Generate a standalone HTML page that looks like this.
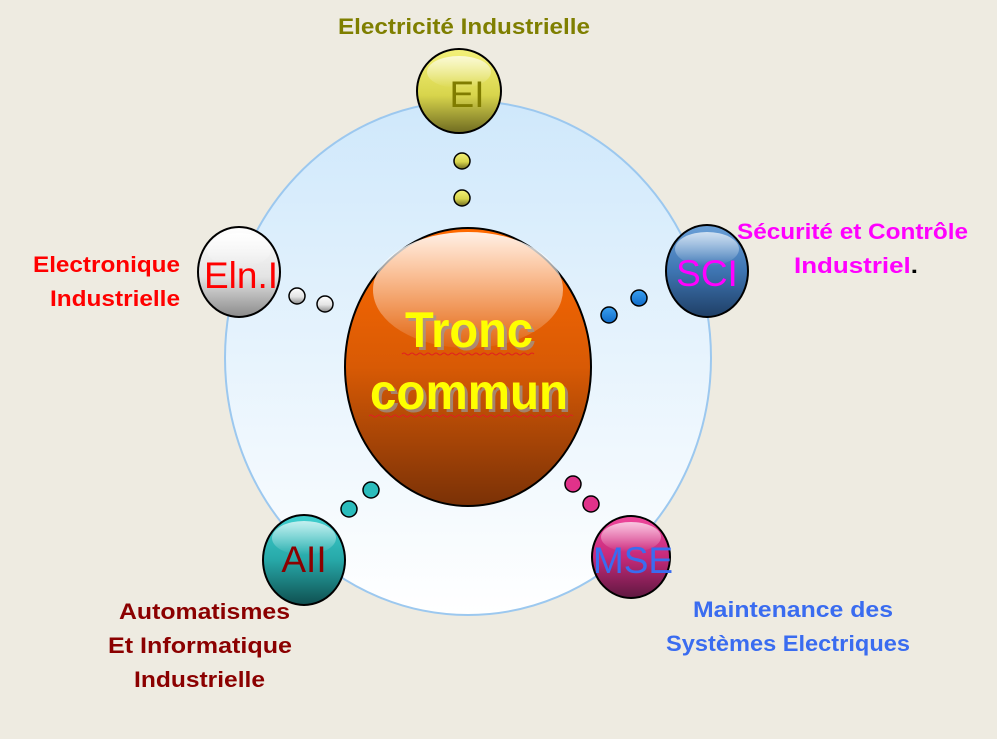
<!DOCTYPE html>
<html><head><meta charset="utf-8"><style>
body{margin:0;background:#eeebe1;}
svg{display:block;}
text{font-family:"Liberation Sans",sans-serif;}
.lb{font-weight:bold;font-size:22px;}
.sp{font-size:37px;}
</style></head><body>
<svg width="997" height="739" viewBox="0 0 997 739">
<defs>
<linearGradient id="bg" x1="0" y1="0" x2="0" y2="1"><stop offset="0" stop-color="#cfe8fb"/><stop offset="1" stop-color="#ffffff"/></linearGradient>
<linearGradient id="or" x1="0" y1="0" x2="0" y2="1"><stop offset="0" stop-color="#ff6a00"/><stop offset="0.5" stop-color="#d85a05"/><stop offset="1" stop-color="#7a3106"/></linearGradient>
<linearGradient id="hl" x1="0" y1="0" x2="0" y2="1"><stop offset="0" stop-color="#fff" stop-opacity="0.9"/><stop offset="1" stop-color="#fff" stop-opacity="0.05"/></linearGradient>
<linearGradient id="hs" x1="0" y1="0" x2="0" y2="1"><stop offset="0" stop-color="#fff" stop-opacity="0.7"/><stop offset="1" stop-color="#fff" stop-opacity="0"/></linearGradient>
<linearGradient id="ye" x1="0" y1="0" x2="0" y2="1"><stop offset="0" stop-color="#f4f17a"/><stop offset="0.55" stop-color="#d8d54c"/><stop offset="1" stop-color="#6f6b21"/></linearGradient>
<linearGradient id="gr" x1="0" y1="0" x2="0" y2="1"><stop offset="0" stop-color="#ffffff"/><stop offset="0.55" stop-color="#e4e4e4"/><stop offset="1" stop-color="#8a8a8a"/></linearGradient>
<linearGradient id="bl" x1="0" y1="0" x2="0" y2="1"><stop offset="0" stop-color="#6aa0d8"/><stop offset="0.5" stop-color="#3e75b2"/><stop offset="1" stop-color="#1f3f66"/></linearGradient>
<linearGradient id="te" x1="0" y1="0" x2="0" y2="1"><stop offset="0" stop-color="#40d0d0"/><stop offset="0.5" stop-color="#27a8a8"/><stop offset="1" stop-color="#0f4f50"/></linearGradient>
<linearGradient id="pk" x1="0" y1="0" x2="0" y2="1"><stop offset="0" stop-color="#f0479c"/><stop offset="0.5" stop-color="#c52a7a"/><stop offset="1" stop-color="#5f1840"/></linearGradient>
<linearGradient id="db" x1="0" y1="0" x2="0" y2="1"><stop offset="0" stop-color="#3aa0f0"/><stop offset="1" stop-color="#0f6ac8"/></linearGradient>
</defs>
<ellipse cx="468" cy="358" rx="243" ry="257" fill="url(#bg)" stroke="#9cc8ef" stroke-width="2"/>

<ellipse cx="468" cy="367" rx="123" ry="139" fill="url(#or)" stroke="#000" stroke-width="2"/>
<ellipse cx="468" cy="290" rx="95" ry="58" fill="url(#hl)"/>
<g font-weight="bold" font-size="50">
<text x="408" y="350" textLength="128" lengthAdjust="spacingAndGlyphs" fill="#999" opacity="0.7">Tronc</text>
<text x="405" y="347" textLength="128" lengthAdjust="spacingAndGlyphs" fill="#ffff00">Tronc</text>
<text x="373" y="412" textLength="198" lengthAdjust="spacingAndGlyphs" fill="#999" opacity="0.7">commun</text>
<text x="370" y="409" textLength="198" lengthAdjust="spacingAndGlyphs" fill="#ffff00">commun</text>
</g>
<path d="M402 354 q2 -2 4 0 t4 0 t4 0 t4 0 t4 0 t4 0 t4 0 t4 0 t4 0 t4 0 t4 0 t4 0 t4 0 t4 0 t4 0 t4 0 t4 0 t4 0 t4 0 t4 0 t4 0 t4 0 t4 0 t4 0 t4 0 t4 0 t4 0 t4 0 t4 0 t4 0 t4 0 t4 0 t4 0" fill="none" stroke="#e02020" stroke-width="1"/>
<path d="M369 416 q2 -2 4 0 t4 0 t4 0 t4 0 t4 0 t4 0 t4 0 t4 0 t4 0 t4 0 t4 0 t4 0 t4 0 t4 0 t4 0 t4 0 t4 0 t4 0 t4 0 t4 0 t4 0 t4 0 t4 0 t4 0 t4 0 t4 0 t4 0 t4 0 t4 0 t4 0 t4 0 t4 0 t4 0 t4 0 t4 0 t4 0 t4 0 t4 0 t4 0 t4 0 t4 0 t4 0 t4 0 t4 0 t4 0 t4 0 t4 0 t4 0 t4 0 t4 0 t4 0" fill="none" stroke="#e02020" stroke-width="1"/>

<g stroke="#000" stroke-width="1.5">
<circle cx="462" cy="161" r="8" fill="url(#ye)"/><circle cx="462" cy="198" r="8" fill="url(#ye)"/>
<circle cx="297" cy="296" r="8" fill="url(#gr)"/><circle cx="325" cy="304" r="8" fill="url(#gr)"/>
<circle cx="639" cy="298" r="8" fill="url(#db)"/><circle cx="609" cy="315" r="8" fill="url(#db)"/>
<circle cx="371" cy="490" r="8" fill="#2bbcbc"/><circle cx="349" cy="509" r="8" fill="#2bbcbc"/>
<circle cx="573" cy="484" r="8" fill="#e0328a"/><circle cx="591" cy="504" r="8" fill="#e0328a"/>
</g>

<g stroke="#000" stroke-width="2">
<ellipse cx="459" cy="91" rx="42" ry="42" fill="url(#ye)"/>
<ellipse cx="239" cy="272" rx="41" ry="45" fill="url(#gr)"/>
<ellipse cx="707" cy="271" rx="41" ry="46" fill="url(#bl)"/>
<ellipse cx="304" cy="560" rx="41" ry="45" fill="url(#te)"/>
<ellipse cx="631" cy="557" rx="39" ry="41" fill="url(#pk)"/>
</g>
<g fill="url(#hs)">
<ellipse cx="459" cy="72" rx="32" ry="16"/>
<ellipse cx="239" cy="250" rx="32" ry="17"/>
<ellipse cx="707" cy="249" rx="32" ry="17"/>
<ellipse cx="304" cy="538" rx="32" ry="17"/>
<ellipse cx="631" cy="537" rx="30" ry="15"/>
</g>
<g class="sp" text-anchor="middle">
<text x="467" y="107" fill="#807c00">EI</text>
<text x="241" y="288" fill="#ff0000">Eln.I</text>
<text x="707" y="286" fill="#ff00ff">SCI</text>
<text x="304" y="572" fill="#8b0000">AII</text>
<text x="633" y="573" fill="#3a6cf0">MSE</text>
</g>

<g class="lb">
<text x="338" y="34" textLength="252" lengthAdjust="spacingAndGlyphs" fill="#7f7f00">Electricité Industrielle</text>
<text x="33" y="272" textLength="147" lengthAdjust="spacingAndGlyphs" fill="#ff0000">Electronique</text>
<text x="50" y="306" textLength="130" lengthAdjust="spacingAndGlyphs" fill="#ff0000">Industrielle</text>
<text x="737" y="239" textLength="231" lengthAdjust="spacingAndGlyphs" fill="#ff00ff">Sécurité et Contrôle</text>
<text x="794" y="273" textLength="124" lengthAdjust="spacingAndGlyphs" fill="#ff00ff">Industriel<tspan fill="#000">.</tspan></text>
<text x="119" y="619" textLength="171" lengthAdjust="spacingAndGlyphs" fill="#8b0000">Automatismes</text>
<text x="108" y="653" textLength="184" lengthAdjust="spacingAndGlyphs" fill="#8b0000">Et Informatique</text>
<text x="134" y="687" textLength="131" lengthAdjust="spacingAndGlyphs" fill="#8b0000">Industrielle</text>
<text x="693" y="617" textLength="200" lengthAdjust="spacingAndGlyphs" fill="#3a6cf0">Maintenance des</text>
<text x="666" y="651" textLength="244" lengthAdjust="spacingAndGlyphs" fill="#3a6cf0">Systèmes Electriques</text>
</g>
</svg>
</body></html>
